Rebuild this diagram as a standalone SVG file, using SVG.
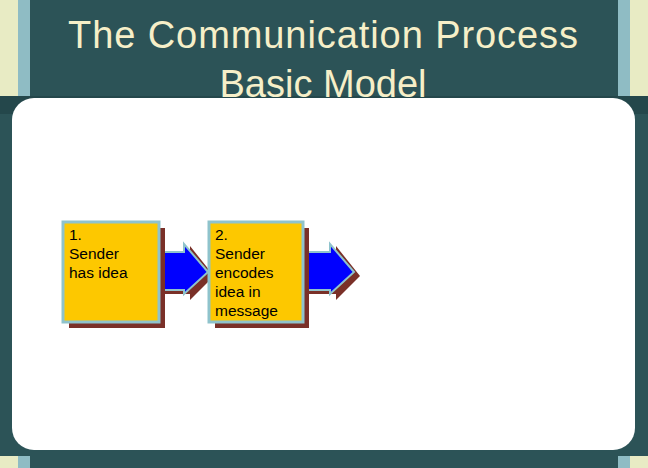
<svg xmlns="http://www.w3.org/2000/svg" width="648" height="468" viewBox="0 0 648 468">
<style>
.t{font-family:"Liberation Sans",Arial,sans-serif;fill:#f6efc8;font-size:38px;text-anchor:middle}
.l{font-family:"Liberation Sans",Arial,sans-serif;font-size:15.5px;fill:#000}
.box{fill:#fdc800;stroke:#8fc3cc;stroke-width:3}
.sh{fill:#7a3028}
.ar{fill:#0000ff;stroke:#8fc3cc;stroke-width:2}
</style>
<rect width="648" height="468" fill="#2c5357"/>
<rect x="0" y="0" width="18" height="96" fill="#e8ebc4"/>
<rect x="18" y="0" width="12" height="96" fill="#8fbcc4"/>
<rect x="618" y="0" width="12" height="96" fill="#8fbcc4"/>
<rect x="630" y="0" width="18" height="96" fill="#e8ebc4"/>
<rect x="0" y="456" width="18" height="12" fill="#e8ebc4"/>
<rect x="18" y="456" width="12" height="12" fill="#8fbcc4"/>
<rect x="618" y="456" width="12" height="12" fill="#8fbcc4"/>
<rect x="630" y="456" width="18" height="12" fill="#e8ebc4"/>
<rect x="0" y="96" width="648" height="18" fill="#24474b"/>
<rect x="12" y="98" width="623" height="352" rx="22" fill="#fff"/>
<text class="t" x="323" y="48" textLength="510">The Communication Process</text>
<text class="t" x="323" y="97">Basic Model</text>
<g id="connectors">
<polygon class="sh" points="164,258 190,258 190,246 214,276 190,300 190,294 164,294"/>
<polygon class="ar" points="158,252 184,252 184,244 208,272 184,294 184,290 158,290"/>
<polygon class="sh" points="308,258 336,258 336,246 360,276 336,300 336,294 308,294"/>
<polygon class="ar" points="302,252 330,252 330,244 354,272 330,294 330,290 302,290"/>
</g>
<g id="n1">
<rect class="sh" x="69" y="228" width="96" height="100"/>
<rect class="box" x="63" y="222" width="96" height="100"/>
<text class="l" x="69" y="240">1.</text>
<text class="l" x="69" y="259">Sender</text>
<text class="l" x="69" y="278">has idea</text>
</g>
<g id="n2">
<rect class="sh" x="215" y="228" width="94" height="100"/>
<rect class="box" x="209" y="222" width="94" height="100"/>
<text class="l" x="215" y="240">2.</text>
<text class="l" x="215" y="259">Sender</text>
<text class="l" x="215" y="278">encodes</text>
<text class="l" x="215" y="297">idea in</text>
<text class="l" x="215" y="316">message</text>
</g>
</svg>
